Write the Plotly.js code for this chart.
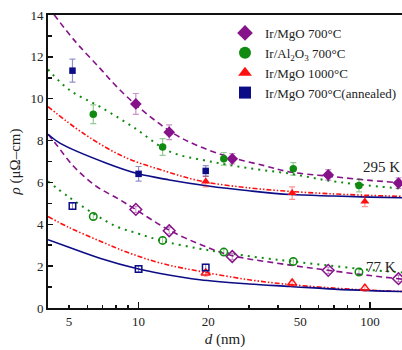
<!DOCTYPE html>
<html><head><meta charset="utf-8">
<script src="https://cdn.plot.ly/plotly-3.0.1.min.js"></script>
<style>html,body{margin:0;padding:0;background:#fff}#c{width:402px;height:350px}</style>
</head><body><div id="c"></div>
<script>
// ---- data (thickness d in nm, resistivity in µΩ·cm) ----
const names = ["Ir/MgO 700°C", "Ir/Al<sub>2</sub>O<sub>3</sub> 700°C", "Ir/MgO 1000°C", "Ir/MgO 700°C(annealed)"];

const mgo700_d = [9.73, 13.56, 25.4, 66.0, 132.8];
const mgo700_295 = [9.75, 8.40, 7.13, 6.36, 5.97];
const mgo700_295_err = [0.5, 0.35, 0.25, 0.25, 0.25];
const mgo700_77 = [4.71, 3.69, 2.46, 1.80, 1.40];

const al_d = [6.37, 12.7, 23.35, 46.6, 89.6];
const al_295 = [9.26, 7.69, 7.13, 6.65, 5.85];
const al_295_err = [0.45, 0.4, 0.3, 0.3, 0.3];
const al_77 = [4.37, 3.23, 2.67, 2.22, 1.72];

const mgo1000_d = [19.5, 46.1, 95.0];
const mgo1000_295 = [6.04, 5.49, 5.09];
const mgo1000_295_err = [0.25, 0.3, 0.25];
const mgo1000_77 = [1.67, 1.19, 0.95];

const ann_d = [5.18, 10.0, 19.5];
const ann_295 = [11.34, 6.41, 6.55];
const ann_295_err = [0.55, 0.35, 0.25];
const ann_77 = [4.87, 1.86, 1.94];

const err77 = [0.15, 0.15, 0.15, 0.15, 0.15];

// fitted curves
const fitMgo700_295_d = [4.06, 5.0, 5.57, 6.8, 8.0, 10, 14.1, 18.4, 25, 35, 45, 66, 100, 137.5];
const fitMgo700_295_v = [14.4, 13.1, 12.49, 11.46, 10.6, 9.6, 8.35, 7.71, 7.2, 6.8, 6.5, 6.3, 6.1, 5.98];
const fitMgo700_77_d = [4.06, 4.35, 5.21, 6.5, 8.3, 9.73, 13.56, 20, 25.4, 45.2, 66, 100, 137.5];
const fitMgo700_77_v = [8.3, 7.9, 6.8, 5.85, 5.17, 4.7, 3.72, 2.88, 2.5, 2.05, 1.8, 1.55, 1.38];

const fitAl_295_d = [4.06, 5.05, 6.8, 9.5, 13.65, 20, 30, 45, 65, 90, 137.5];
const fitAl_295_v = [11.4, 10.4, 9.62, 8.64, 7.47, 7.02, 6.68, 6.42, 6.1, 5.9, 5.7];
const fitAl_77_d = [4.06, 5.0, 6.41, 8.0, 10, 12.7, 18, 23.4, 35, 46.6, 70, 100, 137.5];
const fitAl_77_v = [6.05, 5.3, 4.5, 3.9, 3.55, 3.2, 2.85, 2.65, 2.38, 2.22, 2.0, 1.82, 1.7];

const fitMgo1000_295_d = [4.06, 5.76, 8.58, 13.2, 19, 30, 45.2, 70, 100, 137.5];
const fitMgo1000_295_v = [9.62, 8.35, 7.24, 6.52, 6.04, 5.74, 5.57, 5.45, 5.38, 5.33];
const fitMgo1000_77_d = [4.06, 5.0, 6.8, 9.0, 12.4, 18.4, 30, 45.2, 70, 100, 137.5];
const fitMgo1000_77_v = [4.37, 3.85, 3.2, 2.65, 2.15, 1.75, 1.35, 1.12, 0.95, 0.85, 0.79];

const fitAnn_295_d = [4.06, 4.57, 7.27, 10, 13.6, 20, 30, 45.2, 70, 100, 137.5];
const fitAnn_295_v = [8.3, 7.88, 6.92, 6.41, 6.12, 5.83, 5.6, 5.42, 5.35, 5.3, 5.27];
const fitAnn_77_d = [4.06, 5.0, 6.8, 10, 12.4, 18.4, 30, 45.2, 70, 100, 137.5];
const fitAnn_77_v = [3.26, 2.9, 2.38, 1.86, 1.65, 1.35, 1.15, 1.03, 0.9, 0.83, 0.79];

const xTickVals = [5, 10, 20, 50, 100];
const xTickText = ["5", "10", "20", "50", "100"];
const xMinorVals = [5, 6, 7, 8, 9, 20, 30, 40, 50, 60, 70, 80, 90];
const xMajorVals = [10, 100];

// ---- styles ----
const PURPLE = "#86128a", GREEN = "#118a11", RED = "#ff1010", NAVY = "#0c0c86";
const series = [
  {name: names[0], c: PURPLE, sym: "diamond", sz: 9, d: mgo700_d, v295: mgo700_295, e295: mgo700_295_err, v77: mgo700_77,
   f295: [fitMgo700_295_d, fitMgo700_295_v], f77: [fitMgo700_77_d, fitMgo700_77_v], dash: "6px,4px", lw: 1.6},
  {name: names[1], c: GREEN, sym: "circle", sz: 7.5, d: al_d, v295: al_295, e295: al_295_err, v77: al_77,
   f295: [fitAl_295_d, fitAl_295_v], f77: [fitAl_77_d, fitAl_77_v], dash: "2px,5px", lw: 2},
  {name: names[2], c: RED, sym: "triangle-up", sz: 8, d: mgo1000_d, v295: mgo1000_295, e295: mgo1000_295_err, v77: mgo1000_77,
   f295: [fitMgo1000_295_d, fitMgo1000_295_v], f77: [fitMgo1000_77_d, fitMgo1000_77_v], dash: "5px,2px,1.5px,2px,1.5px,2px", lw: 1.6},
  {name: names[3], c: NAVY, sym: "square", sz: 6.5, d: ann_d, v295: ann_295, e295: ann_295_err, v77: ann_77,
   f295: [fitAnn_295_d, fitAnn_295_v], f77: [fitAnn_77_d, fitAnn_77_v], dash: "solid", lw: 1.6}
];

function fade(hex) {
  const r = parseInt(hex.slice(1,3),16), g = parseInt(hex.slice(3,5),16), b = parseInt(hex.slice(5,7),16);
  return `rgba(${r},${g},${b},0.45)`;
}

const traces = [];
series.forEach(s => {
  traces.push({x: s.f295[0], y: s.f295[1], mode: "lines", line: {color: s.c, width: s.lw, dash: s.dash, shape: "spline", smoothing: 1}, showlegend: false, hoverinfo: "skip"});
  traces.push({x: s.f77[0], y: s.f77[1], mode: "lines", line: {color: s.c, width: s.lw, dash: s.dash, shape: "spline", smoothing: 1}, showlegend: false, hoverinfo: "skip"});
});
series.forEach((s, i) => {
  traces.push({x: s.d, y: s.v295, mode: "markers", name: s.name, legendrank: i,
    marker: {color: s.c, symbol: s.sym, size: s.sz},
    error_y: {type: "data", array: s.e295, color: fade(s.c), thickness: 1.2, width: 3}});
  traces.push({x: s.d, y: s.v77, mode: "markers", showlegend: false,
    marker: {color: s.c, symbol: s.sym + "-open", size: s.sz, line: {color: s.c, width: 1.5}},
    error_y: {type: "data", array: err77.slice(0, s.d.length), color: fade(s.c), thickness: 1, width: 2}});
});
// helper trace for the overlaid axis carrying the long ticks
traces.push({x: [10], y: [0], xaxis: "x2", mode: "markers", marker: {opacity: 0}, showlegend: false, hoverinfo: "skip"});

const FONT = "Liberation Serif";
const xr = [Math.log10(4.06), Math.log10(137.5)];
const layout = {
  width: 402, height: 350,
  margin: {l: 48, r: 0, t: 15, b: 42},
  paper_bgcolor: "#fff", plot_bgcolor: "#fff",
  font: {family: FONT, size: 13, color: "#222"},
  showlegend: true,
  legend: {x: 0.5, y: 0.99, xanchor: "left", yanchor: "top", bgcolor: "rgba(0,0,0,0)",
    font: {family: FONT, size: 13, color: "#222"}, tracegroupgap: 0, itemsizing: "constant", itemwidth: 30},
  xaxis: {type: "log", range: xr, showgrid: false, zeroline: false,
    showline: true, linecolor: "#111", linewidth: 2, mirror: true,
    tickmode: "array", tickvals: xTickVals, ticktext: xTickText,
    ticks: "inside", ticklen: 3.5, tickwidth: 1.5, tickcolor: "#111",
    minor: {tickmode: "array", tickvals: xMinorVals, ticks: "inside", ticklen: 3.5, tickwidth: 1.5, tickcolor: "#111", showgrid: false},
    tickfont: {family: FONT, size: 13, color: "#222"},
    title: {text: "<i>d</i> (nm)", font: {family: FONT, size: 15, color: "#222"}, standoff: 6}},
  xaxis2: {type: "log", range: xr, overlaying: "x", showgrid: false, zeroline: false, showline: false,
    tickmode: "array", tickvals: xMajorVals, showticklabels: false,
    ticks: "inside", ticklen: 6, tickwidth: 1.5, tickcolor: "#111", side: "bottom", anchor: "y"},
  yaxis: {range: [0, 14], showgrid: false, zeroline: false,
    showline: true, linecolor: "#111", linewidth: 2, mirror: false,
    tickmode: "array", tickvals: [0, 2, 4, 6, 8, 10, 12, 14],
    ticks: "inside", ticklen: 5, tickwidth: 1.5, tickcolor: "#111",
    minor: {tickmode: "array", tickvals: [1, 3, 5, 7, 9, 11, 13], ticks: "inside", ticklen: 4, tickwidth: 1.5, tickcolor: "#111", showgrid: false},
    tickfont: {family: FONT, size: 13, color: "#222"},
    title: {text: "<i>ρ</i> (μΩ–cm)", font: {family: FONT, size: 15, color: "#222"}, standoff: 6}},
  annotations: [
    {x: Math.log10(112), y: 6.76, xref: "x", yref: "y", text: "295 K", showarrow: false, font: {family: FONT, size: 15, color: "#222"}},
    {x: Math.log10(112), y: 1.96, xref: "x", yref: "y", text: "77 K", showarrow: false, font: {family: FONT, size: 15, color: "#222"}}
  ]
};

Plotly.newPlot("c", traces, layout, {staticPlot: true, displayModeBar: false});
</script>
</body></html>
